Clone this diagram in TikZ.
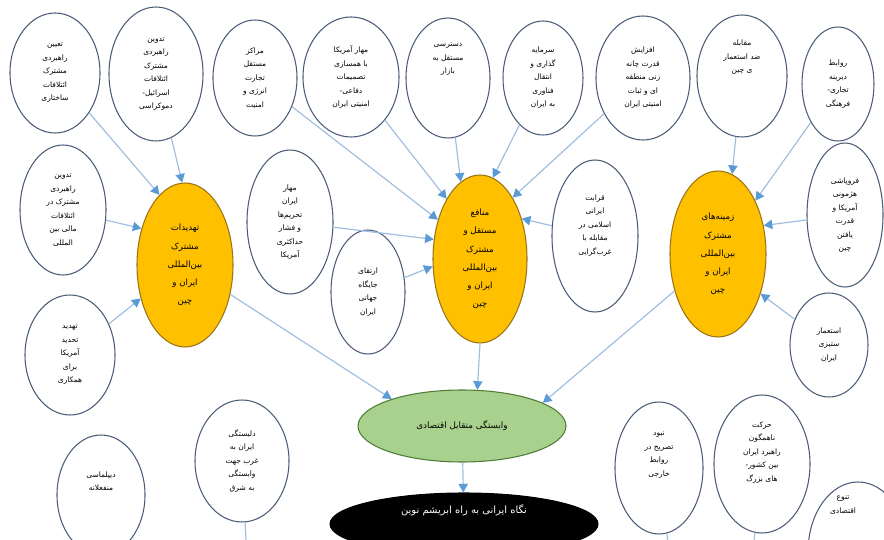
\documentclass[tikz,border=0pt]{standalone}
\usepackage{fontspec}
\usepackage{tikz}
\usetikzlibrary{arrows.meta,shapes.geometric}
\TeXXeTstate=1
\newfontfamily\farsi[Script=Arabic]{DejaVu Sans}
\newcommand\rl[1]{\beginR #1\endR}
\definecolor{Slate}{HTML}{4A5C78}
\definecolor{Amber}{HTML}{FFC000}
\definecolor{AmberDark}{HTML}{9A7417}
\definecolor{Sage}{HTML}{A9D18E}
\definecolor{SageDark}{HTML}{4F7C36}
\definecolor{Sky}{HTML}{5B9BD5}
\definecolor{SkyLine}{HTML}{9FBEE0}

\begin{document}
\begin{tikzpicture}[x=0.03cm,y=-0.03cm]
    \tikzset{
      idea/.style={ellipse,draw=Slate,line width=0.9pt,fill=white,inner sep=0pt,
                   align=center,font=\farsi\fontsize{6.4}{11.5}\selectfont},
      core/.style={idea,fill=Amber,draw=AmberDark,line width=0.9pt,
                   font=\farsi\fontsize{7.4}{15.5}\selectfont},
      joint/.style={idea,fill=Sage,draw=SageDark,font=\farsi\fontsize{7.5}{9}\selectfont},
      goal/.style={idea,fill=black,draw=black,text=white,font=\farsi\fontsize{8.5}{10}\selectfont},
      flow/.style={-{Triangle[length=2.6mm,width=2.8mm,color=Sky]},line width=1pt,draw=SkyLine},
      wire/.style={line width=1pt,draw=SkyLine}
    }
    \useasboundingbox (0,0) rectangle (884,540);
    \clip (0,0) rectangle (884,540);
    \fill[white] (0,0) rectangle (884,540);
    % top row
    \node[idea,minimum width=2.7cm,minimum height=3.6cm] (tA) at (55,73)
      {\rl{تعیین}\\\rl{راهبردی}\\\rl{مشترک}\\\rl{ائتلافات}\\\rl{ساختاری}};
    \node[idea,minimum width=2.82cm,minimum height=4.02cm] (tB) at (156,74)
      {\rl{تدوین}\\\rl{راهبردی}\\\rl{مشترک}\\\rl{ائتلافات}\\\rl{اسرائیل-}\\\rl{دموکراسی}};
    \node[idea,minimum width=2.52cm,minimum height=3.48cm] (tC) at (255,78)
      {\rl{مراکز}\\\rl{مستقل}\\\rl{تجارت}\\\rl{انرژی و}\\\rl{امنیت}};
    \node[idea,minimum width=2.88cm,minimum height=3.6cm] (tD) at (351,77)
      {\rl{مهار آمریکا}\\\rl{با همسازی}\\\rl{تصمیمات}\\\rl{دفاعی-}\\\rl{امنیتی ایران}};
    \node[idea,minimum width=2.52cm,minimum height=3.6cm] (tE) at (448,78)
      {\rl{دسترسی}\\\rl{مستقل به}\\\rl{بازار}\\[22pt]~};
    \node[idea,minimum width=2.4cm,minimum height=3.42cm] (tF) at (543,78)
      {\rl{سرمایه}\\\rl{گذاری و}\\\rl{انتقال}\\\rl{فناوری}\\\rl{به ایران}};
    \node[idea,minimum width=2.82cm,minimum height=3.72cm] (tG) at (643,78)
      {\rl{افزایش}\\\rl{قدرت چانه}\\\rl{زنی منطقه}\\\rl{ای و ثبات}\\\rl{امنیتی ایران}};
    \node[idea,minimum width=2.7cm,minimum height=3.66cm] (tH) at (742,76)
      {\rl{مقابله}\\\rl{ضد استعمار}\\\rl{ی چین}\\[22pt]~};
    \node[idea,minimum width=2.16cm,minimum height=3.42cm] (tI) at (838,84)
      {\rl{روابط}\\\rl{دیرینه}\\\rl{تجاری-}\\\rl{فرهنگی}};
    % middle band
    \node[idea,minimum width=2.58cm,minimum height=3.9cm] (lM) at (63,210)
      {\rl{تدوین}\\\rl{راهبردی}\\\rl{مشترک در}\\\rl{ائتلافات}\\\rl{مالی بین}\\\rl{المللی}};
    \node[idea,minimum width=2.7cm,minimum height=3.6cm] (lB) at (70,355)
      {\rl{تهدید}\\\rl{تحدید}\\\rl{آمریکا}\\\rl{برای}\\\rl{همکاری}};
    \node[idea,minimum width=2.58cm,minimum height=4.32cm] (mI) at (290,222)
      {\rl{مهار}\\\rl{ایران}\\\rl{تحریم‌ها}\\\rl{و فشار}\\\rl{حداکثری}\\\rl{آمریکا}};
    \node[idea,minimum width=2.22cm,minimum height=3.72cm] (sM) at (368,292)
      {\rl{ارتقای}\\\rl{جایگاه}\\\rl{جهانی}\\\rl{ایران}};
    \node[idea,minimum width=2.58cm,minimum height=4.56cm] (rC) at (595,236)
      {\rl{قرابت}\\\rl{ایرانی}\\\rl{اسلامی در}\\\rl{مقابله با}\\\rl{غرب‌گرایی}\\[8pt]~};
    \node[idea,minimum width=2.28cm,minimum height=4.32cm] (rE) at (845,215)
      {\rl{فروپاشی}\\\rl{هژمونی}\\\rl{آمریکا و}\\\rl{قدرت}\\\rl{یافتن}\\\rl{چین}};
    \node[idea,minimum width=2.34cm,minimum height=3.12cm] (rB) at (829,345)
      {\rl{استعمار}\\\rl{ستیزی}\\\rl{ایران}};
    \node[core,minimum width=2.88cm,minimum height=4.92cm] (oL) at (185,265)
      {\rl{تهدیدات}\\\rl{مشترک}\\\rl{بین‌المللی}\\\rl{ایران و}\\\rl{چین}};
    \node[core,minimum width=2.82cm,minimum height=5.04cm] (oM) at (480,259)
      {\rl{منافع}\\\rl{مستقل و}\\\rl{مشترک}\\\rl{بین‌المللی}\\\rl{ایران و}\\\rl{چین}};
    \node[core,minimum width=2.88cm,minimum height=4.98cm] (oR) at (718,254)
      {\rl{زمینه‌های}\\\rl{مشترک}\\\rl{بین‌المللی}\\\rl{ایران و}\\\rl{چین}};
    % bottom
    \node[joint,minimum width=6.24cm,minimum height=2.16cm] (gr) at (462,426)
      {\rl{وابستگی متقابل اقتصادی}};
    \node[goal,minimum width=8.04cm,minimum height=1.86cm] (bk) at (464,524)
      {\rl{نگاه ایرانی به راه ابریشم نوین}\\[16pt]~};
    \node[idea,minimum width=2.64cm,minimum height=3.6cm] (bA) at (101,495)
      {\rl{دیپلماسی}\\\rl{منفعلانه}\\[12pt]~};
    \node[idea,minimum width=2.82cm,minimum height=3.66cm] (bB) at (242,461)
      {\rl{دلبستگی}\\\rl{ایران به}\\\rl{غرب جهت}\\\rl{وابستگی}\\\rl{به شرق}};
    \node[idea,minimum width=2.64cm,minimum height=3.96cm] (bC) at (659,468)
      {\rl{نبود}\\\rl{تصریح در}\\\rl{روابط}\\\rl{خارجی}\\[12pt]~};
    \node[idea,minimum width=2.88cm,minimum height=4.14cm] (bD) at (762,464)
      {\rl{حرکت}\\\rl{ناهمگون}\\\rl{راهبرد ایران}\\\rl{بین کشور-}\\\rl{های بزرگ}\\[10pt]~};
    \node[idea,minimum width=3.0cm,minimum height=4.2cm] (bE) at (858,552) {};
    \node[font=\farsi\fontsize{6.4}{11.5}\selectfont,align=center] (bEtext) at (843,505)
      {\rl{تنوع}\\\rl{اقتصادی}};
    \coordinate (bBout) at (247,560);
    \coordinate (bCout) at (670,560);
    \coordinate (bDout) at (752,560);
    % connectors
    \draw[flow] (tA) -- (oL.110);
    \draw[flow] (tB) -- (oL.92);
    \draw[flow] (lM) -- (oL.140);
    \draw[flow] (lB) -- (oL.217);
    \draw[flow] (tC) -- (oM.137);
    \draw[flow] (tD) -- (oM.119);
    \draw[flow] (tE) -- (oM.104);
    \draw[flow] (tF) -- (oM.81);
    \draw[flow] (tG) -- (oM.62);
    \draw[flow] (rC) -- (oM.44);
    \draw[flow] (mI) -- (oM.157);
    \draw[flow] (sM) -- (oM.189);
    \draw[flow] (tH) -- (oR.80);
    \draw[flow] (tI) -- (oR.55);
    \draw[flow] (rE) -- (oR.32);
    \draw[flow] (rB) -- (oR.-43);
    \draw[flow] (oL) -- (gr.159);
    \draw[flow] (oM.south) -- (gr.67);
    \draw[flow] (oR) -- (gr.16);
    \draw[flow] (gr) -- (bk);
    \draw[wire] (bB) -- (bBout);
    \draw[wire] (bC) -- (bCout);
    \draw[wire] (bD) -- (bDout);
\end{tikzpicture}
\end{document}
